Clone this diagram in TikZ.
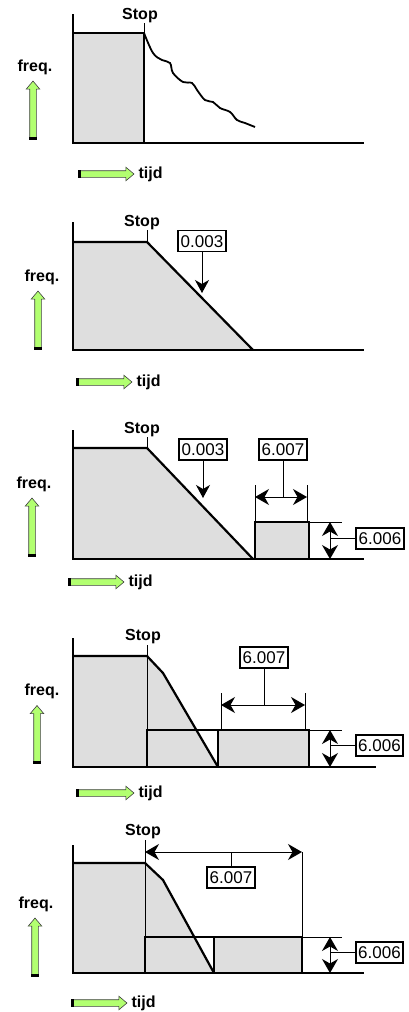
\documentclass[tikz,border=0pt]{standalone}
\usepackage{fontspec}
\setmainfont{Liberation Sans}
\usetikzlibrary{arrows.meta,shapes.arrows,positioning}

\definecolor{vlakgrijs}{RGB}{222,222,222}
\definecolor{pijlgroen}{RGB}{178,255,112}

\tikzset{as/.style={line width=2.2pt}}
\tikzset{dun/.style={line width=0.7pt}}
\tikzset{maatpijl/.style={line width=0.9pt,
    {Stealth[length=14pt,width=16pt,inset=4.5pt]}-{Stealth[length=14pt,width=16pt,inset=4.5pt]}}}
\tikzset{wijspijl/.style={line width=0.9pt,-{Stealth[length=13pt,width=14pt,inset=4pt]}}}
\tikzset{waarde/.style={draw,line width=1.8pt,fill=white,
    font=\fontsize{17}{17}\selectfont,text height=12pt,text depth=0pt,
    inner xsep=2.5pt,inner ysep=4.5pt}}
\tikzset{opschrift/.style={font=\bfseries\fontsize{16}{16}\selectfont,inner sep=0pt}}
\tikzset{groenpijl/.style={single arrow,draw=black!75,fill=pijlgroen,line width=0.6pt,
    single arrow head extend=3.5pt,single arrow tip angle=80,
    inner sep=3pt,minimum width=0pt,text height=0pt,text depth=0pt}}
\tikzset{pijlstaart/.style={line width=3pt}}

\begin{document}
\begin{tikzpicture}[x=1pt,y=-1pt]
\useasboundingbox (0,0) rectangle (408,1012);

%   paneel 1: uitlopen
\filldraw[as,fill=vlakgrijs] (73,33) rectangle (144,143);
\draw[as] (73,14) -- (73,143) -- (364,143);
\draw[as,line width=1.8pt] plot[smooth,tension=0.6] coordinates {(144,33) (153,53)
    (162,60) (170,63) (173,73) (183,82) (192,83) (197,90) (205,100) (213,102)
    (220,108) (230,112) (237,120) (245,123) (255,127)};
\coordinate (a-stop) at (144,33);
\node[opschrift,above=10pt of a-stop,xshift=-4pt] (a-stoptekst) {Stop};
\draw[dun] (a-stop) -- (a-stop |- a-stoptekst.south);
\node[groenpijl,minimum height=57pt,shape border rotate=90] (a-vpijl) at (33,111.5) {};
\draw[pijlstaart] (a-vpijl.before tail) -- (a-vpijl.after tail);
\node[opschrift,above=6pt of a-vpijl,xshift=2pt] (a-freq) {freq.};
\node[groenpijl,minimum height=54pt] (a-hpijl) at (105,174) {};
\draw[pijlstaart] (a-hpijl.before tail) -- (a-hpijl.after tail);
\node[opschrift,right=4pt of a-hpijl] (a-tijd) {tijd};

%   paneel 2: remmen op rampe
\fill[vlakgrijs] (73,242) -- (147,242) -- (253,350) -- (73,350) -- cycle;
\draw[as] (73,222) -- (73,350) -- (364,350);
\draw[as] (73,242) -- (147,242) -- (253,350);
\coordinate (b-stop) at (147,242);
\node[opschrift,above=12pt of b-stop,xshift=-5pt] (b-stoptekst) {Stop};
\draw[dun] (b-stop) -- (b-stop |- b-stoptekst.south);
\node[waarde] (b-rampe) at (202,241) {0.003};
\coordinate (b-wijs) at (202,293);
\draw[wijspijl] (b-rampe) -- (b-wijs);
\node[groenpijl,minimum height=57pt,shape border rotate=90] (b-vpijl) at (38,321.5) {};
\draw[pijlstaart] (b-vpijl.before tail) -- (b-vpijl.after tail);
\node[opschrift,above=6pt of b-vpijl,xshift=4pt] (b-freq) {freq.};
\node[groenpijl,minimum height=54pt] (b-hpijl) at (103,382) {};
\draw[pijlstaart] (b-hpijl.before tail) -- (b-hpijl.after tail);
\node[opschrift,right=4pt of b-hpijl] (b-tijd) {tijd};

%   paneel 3: rampe + DC-remmen
\fill[vlakgrijs] (73,448) -- (147,448) -- (253,559) -- (73,559) -- cycle;
\filldraw[as,fill=vlakgrijs] (255,522) rectangle (309,559);
\draw[as] (73,430) -- (73,559) -- (364,559);
\draw[as] (73,448) -- (147,448) -- (253,559);
\coordinate (c-stop) at (147,448);
\node[opschrift,above=11pt of c-stop,xshift=-5pt] (c-stoptekst) {Stop};
\draw[dun] (c-stop) -- (c-stop |- c-stoptekst.south);
\node[waarde] (c-rampe) at (203,449.5) {0.003};
\coordinate (c-wijs) at (203,498);
\draw[wijspijl] (c-rampe) -- (c-wijs);
%   tijdsduur
\coordinate (c-t1) at (255,497);
\coordinate (c-t2) at (307,497);
\coordinate (c-tm) at (283,497);
\draw[dun] (255,485) -- (255,522);
\draw[dun] (307,485) -- (307,522);
\draw[maatpijl] (c-t1) -- (c-t2);
\node[waarde] (c-duur) at (283,449.5) {6.007};
\draw[dun] (c-duur) -- (c-tm);
%   hoogte
\draw[dun] (309,522) -- (342,522);
\coordinate (c-h1) at (330,522);
\coordinate (c-h2) at (330,559);
\coordinate (c-hm) at (330,538.5);
\draw[maatpijl] (c-h1) -- (c-h2);
\node[waarde] (c-hoogte) at (380,538.5) {6.006};
\draw[dun] (c-hm) -- (c-hoogte);
\node[groenpijl,minimum height=57pt,shape border rotate=90] (c-vpijl) at (32,528.5) {};
\draw[pijlstaart] (c-vpijl.before tail) -- (c-vpijl.after tail);
\node[opschrift,above=6pt of c-vpijl,xshift=2pt] (c-freq) {freq.};
\node[groenpijl,minimum height=54pt] (c-hpijl) at (95,582) {};
\draw[pijlstaart] (c-hpijl.before tail) -- (c-hpijl.after tail);
\node[opschrift,right=4pt of c-hpijl] (c-tijd) {tijd};

%   paneel 4: uitlopen + DC-remmen
\fill[vlakgrijs] (73,656) -- (147,656) -- (163,673) -- (218,767) -- (73,767) -- cycle;
\fill[vlakgrijs] (218,730) rectangle (309,767);
\draw[dun] (147,645) -- (147,767);
\draw[as] (147,730) rectangle (309,767);
\draw[as] (218,730) -- (218,767);
\draw[as] (73,638) -- (73,767) -- (376,767);
\draw[as] (73,656) -- (147,656) -- (163,673) -- (218,767);
\coordinate (d-stop) at (147,656);
\node[opschrift,above=12pt of d-stop,xshift=-4pt] (d-stoptekst) {Stop};
%   tijdsduur
\coordinate (d-t1) at (221,705);
\coordinate (d-t2) at (305,705);
\coordinate (d-tm) at (264,705);
\draw[dun] (221,693) -- (221,730);
\draw[dun] (305,693) -- (305,730);
\draw[maatpijl] (d-t1) -- (d-t2);
\node[waarde] (d-duur) at (264,657.5) {6.007};
\draw[dun] (d-duur) -- (d-tm);
%   hoogte
\draw[dun] (309,730) -- (342,730);
\coordinate (d-h1) at (330,730);
\coordinate (d-h2) at (330,767);
\coordinate (d-hm) at (330,745.5);
\draw[maatpijl] (d-h1) -- (d-h2);
\node[waarde] (d-hoogte) at (379.5,745.5) {6.006};
\draw[dun] (d-hm) -- (d-hoogte);
\node[groenpijl,minimum height=57pt,shape border rotate=90] (d-vpijl) at (37,736) {};
\draw[pijlstaart] (d-vpijl.before tail) -- (d-vpijl.after tail);
\node[opschrift,above=6pt of d-vpijl,xshift=5pt] (d-freq) {freq.};
\node[groenpijl,minimum height=56pt] (d-hpijl) at (104,793) {};
\draw[pijlstaart] (d-hpijl.before tail) -- (d-hpijl.after tail);
\node[opschrift,right=4pt of d-hpijl] (d-tijd) {tijd};

%   paneel 5: DC-remmen direct na stop
\fill[vlakgrijs] (73,863) -- (145,863) -- (163,880) -- (214,973) -- (73,973) -- cycle;
\fill[vlakgrijs] (214,937) rectangle (302,973);
\draw[dun] (145,840) -- (145,973);
\draw[as] (145,937) rectangle (302,973);
\draw[as] (214,937) -- (214,973);
\draw[as] (73,845) -- (73,973) -- (364,973);
\draw[as] (73,863) -- (145,863) -- (163,880) -- (214,973);
\coordinate (e-stop) at (145,863);
\node[opschrift,above=24pt of e-stop,xshift=-2pt] (e-stoptekst) {Stop};
%   tijdsduur
\coordinate (e-t1) at (145,852);
\coordinate (e-t2) at (302,852);
\coordinate (e-tm) at (231,852);
\draw[dun] (302,852) -- (302,937);
\draw[maatpijl] (e-t1) -- (e-t2);
\node[waarde] (e-duur) at (231,877.5) {6.007};
\draw[dun] (e-duur) -- (e-tm);
%   hoogte
\draw[dun] (302,937) -- (342,937);
\coordinate (e-h1) at (330,937);
\coordinate (e-h2) at (330,973);
\coordinate (e-hm) at (330,952.5);
\draw[maatpijl] (e-h1) -- (e-h2);
\node[waarde] (e-hoogte) at (379.5,952.5) {6.006};
\draw[dun] (e-hm) -- (e-hoogte);
\node[groenpijl,minimum height=57pt,shape border rotate=90] (e-vpijl) at (35,948.5) {};
\draw[pijlstaart] (e-vpijl.before tail) -- (e-vpijl.after tail);
\node[opschrift,above=6pt of e-vpijl,xshift=1pt] (e-freq) {freq.};
\node[groenpijl,minimum height=54pt] (e-hpijl) at (98,1003) {};
\draw[pijlstaart] (e-hpijl.before tail) -- (e-hpijl.after tail);
\node[opschrift,right=4pt of e-hpijl] (e-tijd) {tijd};

\end{tikzpicture}
\end{document}
